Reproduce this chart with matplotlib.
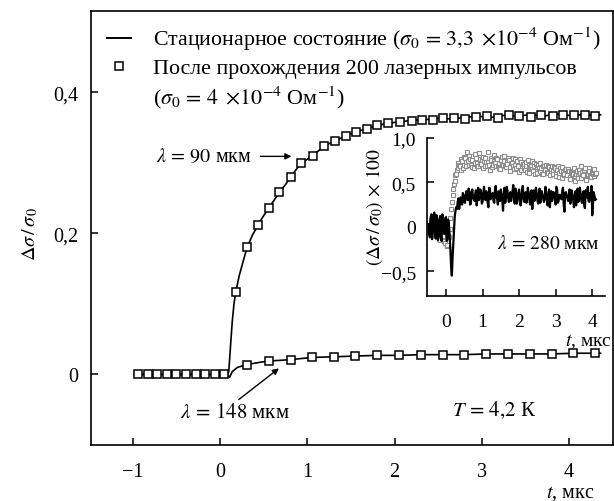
import numpy as np
import matplotlib
matplotlib.use("Agg")
import matplotlib.pyplot as plt
from matplotlib.lines import Line2D

plt.rcParams['font.family'] = ['Liberation Serif', 'DejaVu Serif']
plt.rcParams['mathtext.fontset'] = 'stix'

# ---------------- main data ----------------
# lambda = 90 um: stationary state (line)
t90_line = [-0.98, 0.08, 0.10, 0.12, 0.14, 0.16, 0.18, 0.22, 0.26, 0.31, 0.37, 0.44, 0.50, 0.56,
            0.62, 0.68, 0.75, 0.81, 0.87, 0.93, 1.00, 1.06, 1.13, 1.19, 1.25, 1.32, 1.44,
            1.56, 1.68, 1.80, 1.93, 2.06, 2.20, 2.35, 2.50, 2.65, 2.80, 2.95, 3.10, 3.25,
            3.40, 3.55, 3.70, 3.85, 4.00, 4.15, 4.30, 4.36]
y90_line = [0.000, 0.000, 0.004, 0.040, 0.075, 0.100, 0.117, 0.140, 0.158, 0.180, 0.197, 0.213, 0.225, 0.236,
            0.247, 0.258, 0.269, 0.280, 0.290, 0.299, 0.305, 0.311, 0.317, 0.323, 0.327, 0.331, 0.338,
            0.344, 0.348, 0.353, 0.356, 0.358, 0.360, 0.361, 0.363, 0.362, 0.364, 0.366, 0.364, 0.367,
            0.366, 0.368, 0.366, 0.369, 0.367, 0.368, 0.367, 0.368]
# lambda = 90 um: after 200 laser pulses (squares)
t90_sq = [0.18, 0.31, 0.44, 0.56, 0.68, 0.81, 0.93, 1.06, 1.19, 1.32, 1.44, 1.56, 1.68, 1.80,
          1.93, 2.06, 2.20, 2.31, 2.44, 2.56, 2.68, 2.81, 2.93, 3.06, 3.18, 3.31, 3.43, 3.56,
          3.68, 3.81, 3.93, 4.06, 4.18, 4.30]
y90_sq = [0.117, 0.180, 0.212, 0.236, 0.258, 0.280, 0.299, 0.310, 0.323, 0.331, 0.338, 0.344,
          0.348, 0.353, 0.356, 0.357, 0.359, 0.360, 0.361, 0.363, 0.364, 0.362, 0.365, 0.366,
          0.364, 0.367, 0.366, 0.365, 0.368, 0.366, 0.367, 0.368, 0.367, 0.366]

# lambda = 148 um
t148_line = [-0.98, 0.08, 0.11, 0.14, 0.20, 0.31, 0.45, 0.56, 0.70, 0.81, 1.05, 1.31, 1.55, 1.80,
             2.05, 2.30, 2.55, 2.80, 3.05, 3.30, 3.55, 3.80, 4.05, 4.36]
y148_line = [0.000, 0.000, -0.004, 0.004, 0.010, 0.014, 0.017, 0.019, 0.020, 0.021, 0.024, 0.025,
             0.026, 0.027, 0.027, 0.028, 0.028, 0.028, 0.029, 0.029, 0.029, 0.029, 0.030, 0.030]
t148_sq = [-0.94, -0.83, -0.72, -0.61, -0.50, -0.39, -0.28, -0.17, -0.06, 0.05,
           0.31, 0.56, 0.81, 1.05, 1.31, 1.55, 1.80, 2.05, 2.30, 2.55, 2.80, 3.05, 3.30,
           3.55, 3.80, 4.05, 4.30]
y148_sq = [0.0] * 10 + [0.014, 0.019, 0.021, 0.024, 0.025, 0.026, 0.027, 0.027, 0.028, 0.028,
                        0.028, 0.029, 0.029, 0.029, 0.029, 0.030, 0.030]

x_ticks = [-1, 0, 1, 2, 3, 4]
x_ticklabels = ['\u22121', '0', '1', '2', '3', '4']
y_ticks = [0, 0.2, 0.4]
y_ticklabels = ['0', '0,2', '0,4']

# ---------------- inset data (lambda = 280 um) ----------------
# samples on a 0.04 grid starting at -0.48 (a) and on the midpoints starting at -0.46 (b)
t_in_a = np.linspace(-0.48, 4.08, 115)
t_in_b = np.linspace(-0.46, 4.10, 115)
y_line_a = [0.03, -0.12, 0.14, -0.06, 0.16, -0.13, 0.09, -0.10, 0.12, -0.16, 0.06, -0.08, 0.11, -0.14, 0.02,
            -0.25, -0.55, -0.20, 0.12, 0.22, 0.28, 0.20, 0.33, 0.25, 0.36,
            0.27, 0.40, 0.30, 0.38, 0.26, 0.42, 0.31, 0.37, 0.24, 0.44,
            0.33, 0.39, 0.28, 0.45, 0.30, 0.36, 0.22, 0.43, 0.34, 0.38,
            0.27, 0.46, 0.31, 0.40, 0.29, 0.37, 0.18, 0.44, 0.33, 0.41,
            0.28, 0.39, 0.35, 0.47, 0.26, 0.38, 0.30, 0.42, 0.24, 0.40,
            0.33, 0.37, 0.27, 0.44, 0.31, 0.39, 0.20, 0.41, 0.35, 0.38,
            0.26, 0.43, 0.30, 0.36, 0.28, 0.45, 0.32, 0.37, 0.22, 0.40,
            0.34, 0.38, 0.25, 0.42, 0.29, 0.36, 0.31, 0.44, 0.17, 0.39,
            0.33, 0.37, 0.26, 0.41, 0.30, 0.35, 0.24, 0.43, 0.32, 0.38,
            0.27, 0.40, 0.21, 0.36, 0.45, 0.28, 0.34, 0.13, 0.39, 0.30]
y_line_b = [-0.08, 0.10, -0.14, 0.12, -0.04, 0.13, -0.15, 0.07, -0.11, 0.14, -0.05, 0.09, -0.16, 0.08, -0.10,
            -0.45, -0.35, -0.05, 0.18, 0.20, 0.32, 0.26, 0.30, 0.38, 0.28,
            0.35, 0.31, 0.43, 0.25, 0.39, 0.33, 0.29, 0.41, 0.35, 0.30,
            0.42, 0.26, 0.37, 0.32, 0.40, 0.27, 0.44, 0.31, 0.36, 0.29,
            0.41, 0.34, 0.25, 0.38, 0.42, 0.30, 0.36, 0.27, 0.45, 0.33,
            0.37, 0.29, 0.40, 0.31, 0.43, 0.26, 0.38, 0.34, 0.30, 0.46,
            0.28, 0.39, 0.32, 0.36, 0.25, 0.41, 0.33, 0.29, 0.44, 0.30,
            0.37, 0.27, 0.40, 0.34, 0.31, 0.38, 0.24, 0.42, 0.33, 0.29,
            0.39, 0.30, 0.45, 0.27, 0.36, 0.32, 0.40, 0.25, 0.38, 0.34,
            0.29, 0.42, 0.31, 0.35, 0.22, 0.40, 0.36, 0.28, 0.44, 0.30,
            0.37, 0.25, 0.41, 0.33, 0.29, 0.38, 0.46, 0.27, 0.35, 0.31]
y_sq_a = [0.02, -0.05, 0.06, 0.10, -0.08, 0.04, -0.12, 0.00, -0.15, 0.05, -0.10, -0.18, -0.05, -0.20, -0.12,
          0.10, 0.28, 0.42, 0.52, 0.60, 0.66, 0.70, 0.64, 0.74, 0.70,
          0.77, 0.68, 0.74, 0.80, 0.70, 0.75, 0.66, 0.82, 0.72, 0.69,
          0.76, 0.71, 0.66, 0.74, 0.78, 0.69, 0.73, 0.64, 0.75, 0.70,
          0.81, 0.68, 0.76, 0.72, 0.65, 0.79, 0.70, 0.74, 0.67, 0.71,
          0.75, 0.63, 0.72, 0.69, 0.76, 0.66, 0.70, 0.62, 0.73, 0.68,
          0.71, 0.64, 0.69, 0.75, 0.61, 0.68, 0.65, 0.72, 0.60, 0.67,
          0.70, 0.63, 0.66, 0.59, 0.69, 0.64, 0.62, 0.68, 0.58, 0.65,
          0.63, 0.67, 0.57, 0.64, 0.61, 0.66, 0.55, 0.62, 0.60, 0.65,
          0.58, 0.63, 0.54, 0.61, 0.59, 0.52, 0.60, 0.57, 0.64, 0.55,
          0.62, 0.58, 0.66, 0.53, 0.60, 0.63, 0.56, 0.61, 0.57, 0.59]
y_sq_b = [-0.06, 0.08, -0.02, 0.12, 0.03, -0.10, 0.06, -0.14, -0.04, -0.08, -0.16, 0.02, -0.22, -0.10, -0.02,
          0.20, 0.36, 0.48, 0.58, 0.64, 0.72, 0.68, 0.76, 0.66, 0.79,
          0.73, 0.84, 0.70, 0.76, 0.67, 0.80, 0.72, 0.77, 0.69, 0.83,
          0.71, 0.75, 0.79, 0.68, 0.73, 0.84, 0.70, 0.77, 0.67, 0.74,
          0.72, 0.78, 0.69, 0.66, 0.75, 0.71, 0.80, 0.68, 0.73, 0.77,
          0.67, 0.72, 0.78, 0.65, 0.70, 0.74, 0.68, 0.76, 0.64, 0.71,
          0.66, 0.73, 0.62, 0.70, 0.67, 0.74, 0.63, 0.69, 0.71, 0.61,
          0.66, 0.72, 0.60, 0.68, 0.65, 0.70, 0.61, 0.67, 0.63, 0.69,
          0.59, 0.66, 0.62, 0.68, 0.56, 0.63, 0.67, 0.58, 0.64, 0.60,
          0.65, 0.56, 0.62, 0.59, 0.66, 0.57, 0.63, 0.55, 0.61, 0.68,
          0.58, 0.64, 0.54, 0.60, 0.66, 0.57, 0.62, 0.59, 0.65, 0.61]
in_x_ticks = [0, 1, 2, 3, 4]
in_x_ticklabels = ['0', '1', '2', '3', '4']
in_y_ticks = [-0.5, 0, 0.5, 1.0]
in_y_ticklabels = ['\u22120,5', '0', '0,5', '1,0']

# interleave the two sample sets
t_in = np.column_stack([t_in_a, t_in_b]).ravel()
y_in_line = np.column_stack([y_line_a, y_line_b]).ravel()
y_in_sq = np.column_stack([y_sq_a, y_sq_b]).ravel()

# ---------------- figure ----------------
FS = 14.5
fig = plt.figure(figsize=(6.14, 5.02), dpi=100)
ax = fig.add_axes([0.148, 0.1116, 0.850, 0.8645])

sq_kw = dict(marker='s', markersize=6.0, markerfacecolor='white', markeredgecolor='black',
             markeredgewidth=1.1, linestyle='none')
ax.plot(t90_line, y90_line, color='black', lw=1.2)
ax.plot(t148_line, y148_line, color='black', lw=1.2)
ax.plot(t90_sq, y90_sq, **sq_kw)
ax.plot(t148_sq, y148_sq, **sq_kw)

ax.set_xlim(-1.48, 4.5)
ax.set_ylim(-0.1, 0.515)
ax.set_xticks(x_ticks)
ax.set_xticklabels(x_ticklabels)
ax.set_yticks(y_ticks)
ax.set_yticklabels(y_ticklabels)
ax.tick_params(direction='in', length=5, width=1.1, labelsize=FS)
ax.tick_params(axis='x', pad=12)
ax.tick_params(axis='y', pad=9)
for s in ax.spines.values():
    s.set_linewidth(1.2)

# legend
h_line = Line2D([], [], color='black', lw=1.4)
h_sq = Line2D([], [], marker='s', markersize=5.5, markerfacecolor='white',
              markeredgecolor='black', markeredgewidth=1.1, linestyle='none')
h_none = Line2D([], [], linestyle='none')
labels = ['Стационарное состояние ($\\sigma_0\\,=\\,3{,}3\\;\\times\\!10^{-4}$ Ом$^{-1}$)',
          'После прохождения 200 лазерных импульсов',
          '($\\sigma_0\\,=\\,4\\;\\times\\!10^{-4}$ Ом$^{-1}$)']
ax.legend([h_line, h_sq, h_none], labels, loc='upper left', bbox_to_anchor=(0.030, 0.968),
          frameon=False, fontsize=15.8, handlelength=1.1, handletextpad=1.0, labelspacing=0.25,
          borderaxespad=0.0, borderpad=0.0)

# annotations
ax.annotate('', xy=(0.85, 0.309), xytext=(0.43, 0.309),
            arrowprops=dict(arrowstyle='-|>', color='black', lw=1.0, mutation_scale=9))
ax.text(0.36, 0.309, '$\\lambda\\,=\\,90$ мкм', ha='right', va='center', fontsize=FS)
ax.annotate('', xy=(0.70, 0.011), xytext=(0.19, -0.038),
            arrowprops=dict(arrowstyle='-|>', color='black', lw=1.0, mutation_scale=9))
ax.text(0.17, -0.054, '$\\lambda\\,=\\,148$ мкм', ha='center', va='center', fontsize=15)
ax.text(3.14, -0.05, '$T\\,=\\,4{,}2$ К', ha='center', va='center', fontsize=15)

fig.text(0.928, 0.017, '$t$, мкс', ha='center', va='center', fontsize=FS)
fig.text(0.049, 0.534, '$\\Delta\\sigma\\,/\\,\\sigma_0$', ha='center', va='center',
         rotation=90, fontsize=FS)

# ---------------- inset ----------------
ax2 = fig.add_axes([0.6954, 0.4084, 0.29, 0.3147])
ax2.plot(t_in, y_in_sq, marker='s', markersize=3.2, markerfacecolor='white',
         markeredgecolor='#8c8c8c', markeredgewidth=0.8, linestyle='none')
ax2.plot(t_in, y_in_line, color='black', lw=1.6)
ax2.set_xlim(-0.52, 4.35)
ax2.set_ylim(-0.78, 1.0)
ax2.set_xticks(in_x_ticks)
ax2.set_xticklabels(in_x_ticklabels)
ax2.set_yticks(in_y_ticks)
ax2.set_yticklabels(in_y_ticklabels)
ax2.tick_params(direction='in', length=5, width=1.1, labelsize=14)
ax2.tick_params(axis='x', pad=12)
ax2.tick_params(axis='y', pad=8)
ax2.spines['top'].set_visible(False)
ax2.spines['right'].set_visible(False)
for s in ['left', 'bottom']:
    ax2.spines[s].set_linewidth(1.2)
ax2.patch.set_alpha(0)
ax2.text(2.8, -0.18, '$\\lambda\\,=\\,280$ мкм', ha='center', va='center', fontsize=14)
fig.text(0.958, 0.320, '$t$, мкс', ha='center', va='center', fontsize=14)
fig.text(0.610, 0.588, '$(\\Delta\\sigma\\,/\\,\\sigma_0)\\,\\times\\,100$', ha='center',
         va='center', rotation=90, fontsize=14)

fig.savefig('out.png', dpi=100)
